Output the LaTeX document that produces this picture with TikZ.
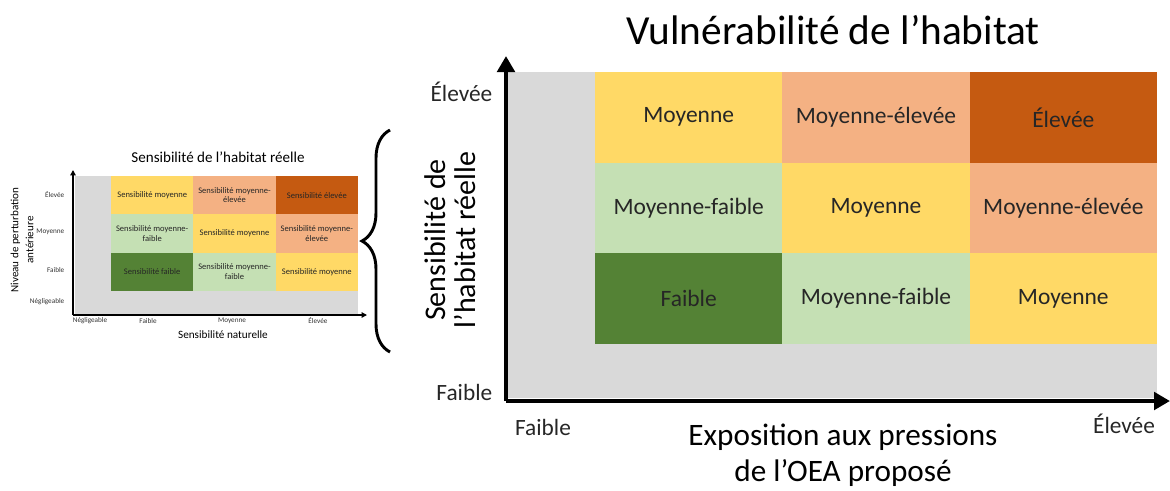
\documentclass[tikz,border=0pt]{standalone}
\usepackage{fontspec}
\setmainfont{Carlito}
\usepackage{xcolor}
\usetikzlibrary{arrows.meta,decorations.pathreplacing}

\definecolor{cellgray}{HTML}{D9D9D9}
\definecolor{lowgreen}{HTML}{548235}
\definecolor{midlowgreen}{HTML}{C5E0B4}
\definecolor{midyellow}{HTML}{FFD966}
\definecolor{midhighpeach}{HTML}{F4B183}
\definecolor{highorange}{HTML}{C55A11}

\tikzset{
	bigcell/.style={inner sep=0pt, minimum width=140.5pt, minimum height=68pt, font=\fontsize{17.6}{20}\selectfont, text=black!85},
	smallcell/.style={inner sep=0pt, minimum width=61.7pt, minimum height=28.7pt, align=center, font=\fontsize{6.4}{7.2}\selectfont, text=black!85},
	bigaxis/.style={line width=3.6pt, -{Triangle[length=12pt, width=13pt]}},
	smallaxis/.style={line width=1pt, -{Triangle[length=4pt, width=4pt]}},
	bigtick/.style={font=\fontsize{17.5}{20}\selectfont, text=black!85},
	smalltick/.style={font=\fontsize{5.4}{6}\selectfont, text=black!80}
}

\begin{document}
\begin{tikzpicture}[x=0.75pt, y=-0.75pt]
	\useasboundingbox (0,0) rectangle (1170,490);
	
	% small matrix
	\fill[cellgray] (75,176) rectangle (358,315);
	\node[smallcell, fill=midyellow] (s13) at (152.2,195.2) {Sensibilité moyenne};
	\node[smallcell, fill=midhighpeach] (s23) at (234.5,195.2) {Sensibilité moyenne-\\élevée};
	\node[smallcell, fill=highorange] (s33) at (316.8,195.2) {Sensibilité élevée};
	\node[smallcell, fill=midlowgreen] (s12) at (152.2,233.5) {Sensibilité moyenne-\\faible};
	\node[smallcell, fill=midyellow] (s22) at (234.5,233.5) {Sensibilité moyenne};
	\node[smallcell, fill=midhighpeach] (s32) at (316.8,233.5) {Sensibilité moyenne-\\élevée};
	\node[smallcell, fill=lowgreen] (s11) at (152.2,271.8) {Sensibilité faible};
	\node[smallcell, fill=midlowgreen] (s21) at (234.5,271.8) {Sensibilité moyenne-\\faible};
	\node[smallcell, fill=midyellow] (s31) at (316.8,271.8) {Sensibilité moyenne};
	
	\coordinate (sO) at (73,315);
	\coordinate (sY) at (73,170);
	\coordinate (sX) at (367,315);
	\draw[smallaxis] (sO) -- (sY);
	\draw[smallaxis] (sO) -- (sX);
	
	\node[smalltick, anchor=east] (sy3) at (69,195) {Élevée};
	\node[smalltick, anchor=east] (sy2) at (69,232) {Moyenne};
	\node[smalltick, anchor=east] (sy1) at (69,270) {Faible};
	\node[smalltick, anchor=east] (sy0) at (69,302) {Négligeable};
	\node[smalltick] (sx0) at (90,321) {Négligeable};
	\node[smalltick] (sx1) at (148,321) {Faible};
	\node[smalltick] (sx2) at (232,321) {Moyenne};
	\node[smalltick] (sx3) at (318,321) {Élevée};
	
	\node[font=\fontsize{11.3}{13}\selectfont] (stitle) at (218,157) {Sensibilité de l’habitat réelle};
	\node[font=\fontsize{8.4}{10}\selectfont] (sxlabel) at (223,335) {Sensibilité naturelle};
	\node[rotate=90, align=center, font=\fontsize{8.3}{11.2}\selectfont] (sylabel) at (22,240) {Niveau de perturbation\\antérieure};
	
	% brace
	\coordinate (bbot) at (390,352);
	\coordinate (btop) at (390,130);
	\draw[line width=2.2pt, decorate, decoration={brace, amplitude=21pt}] (bbot) -- (btop);
	
	% big matrix
	\fill[cellgray] (508,72) rectangle (1157,398);
	\node[bigcell, fill=midyellow] (b13) at (688.7,117.3) {Moyenne};
	\node[bigcell, fill=midhighpeach] (b23) at (876,117.3) {Moyenne-élevée};
	\node[bigcell, fill=highorange] (b33) at (1063.3,117.3) {Élevée};
	\node[bigcell, fill=midlowgreen] (b12) at (688.7,208) {Moyenne-faible};
	\node[bigcell, fill=midyellow] (b22) at (876,208) {Moyenne};
	\node[bigcell, fill=midhighpeach] (b32) at (1063.3,208) {Moyenne-élevée};
	\node[bigcell, fill=lowgreen] (b11) at (688.7,298.7) {Faible};
	\node[bigcell, fill=midlowgreen] (b21) at (876,298.7) {Moyenne-faible};
	\node[bigcell, fill=midyellow] (b31) at (1063.3,298.7) {Moyenne};
	
	\coordinate (bO) at (506,401);
	\coordinate (bY) at (506,56);
	\coordinate (bX) at (1170,401);
	\draw[bigaxis] (bO) -- (bY);
	\draw[bigaxis] (bO) -- (bX);
	
	\node[bigtick, anchor=east] (by3) at (497,92) {Élevée};
	\node[bigtick, anchor=east] (by1) at (497,392) {Faible};
	\node[bigtick] (bx1) at (543,427) {Faible};
	\node[bigtick] (bx3) at (1124,424) {Élevée};
	
	\node[font=\fontsize{31}{36}\selectfont] (btitle) at (833,30) {Vulnérabilité de l’habitat};
	\node[align=center, font=\fontsize{23.4}{27}\selectfont] (bxlabel) at (843,455) {Exposition aux pressions\\de l’OEA proposé};
	\node[rotate=90, align=center, font=\fontsize{22.5}{22.5}\selectfont] (bylabel) at (450,240) {Sensibilité de\\l’habitat réelle};
\end{tikzpicture}
\end{document}
